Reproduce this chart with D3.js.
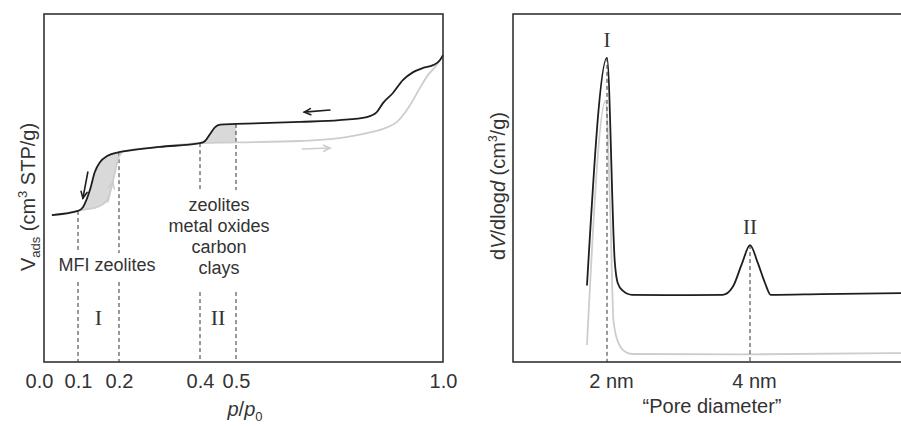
<!DOCTYPE html>
<html><head><meta charset="utf-8">
<script src="https://cdn.jsdelivr.net/npm/d3@7"></script>
<style>body{margin:0;background:#fff}svg{display:block}</style>
</head><body>
<svg id="chart" width="901" height="426"></svg>
<script>
// ---------- Left panel: isotherm (p/p0 vs V_ads, arbitrary units) ----------
const pTicks = [0.0, 0.1, 0.2, 0.4, 0.5, 1.0];
const desP = [0.033, 0.1, 0.112, 0.129, 0.141, 0.154, 0.171, 0.2, 0.21, 0.3, 0.4, 0.414, 0.428, 0.442, 0.456, 0.5, 0.655, 0.75, 0.816, 0.84, 0.855, 0.879, 0.903, 0.928, 0.952, 0.976, 0.993, 1.0];
const desV = [42.2, 43.4, 44.5, 49.4, 54.6, 57.5, 59.2, 60.3, 60.5, 61.8, 62.9, 63.5, 65.5, 67.5, 68.2, 68.4, 69.0, 69.5, 70.4, 71.8, 74.4, 77.3, 81.0, 83.3, 84.5, 85.3, 86.8, 88.2];
const adsP = [0.033, 0.1, 0.12, 0.141, 0.16, 0.171, 0.183, 0.19, 0.197, 0.21, 0.3, 0.4, 0.5, 0.655, 0.703, 0.816, 0.86, 0.889, 0.908, 0.925, 0.944, 0.964, 0.983, 1.0];
const adsV = [42.2, 43.4, 43.9, 44.3, 45.3, 46.6, 50.9, 54.5, 58.0, 60.5, 61.8, 62.9, 63.1, 63.5, 63.8, 65.8, 67.2, 69.0, 71.6, 74.7, 78.7, 82.5, 85.1, 88.2];
const guideP = [0.1, 0.2, 0.4, 0.5];
const guideTop = [43.4, 60.3, 62.9, 68.4];
const guideGapHi = [31.3, 31.3, 49.4, 49.4];
const guideGapLo = [23.0, 23.0, 20.1, 20.1];
const shadeRanges = [[0.1, 0.21], [0.4, 0.5]];
const regionLabels = ["I", "II"];
const regionLabelP = [0.15, 0.45];
const materials1 = ["MFI zeolites"];
const materials2 = ["zeolites", "metal oxides", "carbon", "clays"];

// ---------- Right panel: pore size distribution ----------
const dTicks = [2, 4];
const psdBlackD = [1.72, 2.0, 2.11, 2.15, 2.22, 2.35, 3.0, 3.62, 3.76, 3.89, 4.0, 4.11, 4.21, 4.29, 5.0, 6.2];
const psdBlackV = [22.0, 87.4, 28.4, 22.7, 20.5, 19.3, 19.2, 19.3, 21.6, 28.4, 33.6, 28.4, 22.7, 19.3, 19.5, 19.8];
const psdGrayD = [1.72, 1.98, 2.05, 2.09, 2.15, 2.25, 2.35, 4.0, 6.2];
const psdGrayV = [4.9, 75, 40, 12, 6, 3, 2.3, 2.2, 2.6];
const peakD = [2, 4];
const peakV = [87.4, 33.6];
const peakLabels = ["I", "II"];

const BLACK = "#1e1e1e", GRAY = "#cdcdcd", SHADE = "#d9d9d9", TXT = "#333";
const SANS = "'Liberation Sans', Arial, sans-serif";
const SERIF = "'Liberation Serif', 'Times New Roman', serif";

const svg = d3.select("#chart");

// ===== Left panel =====
const xL = d3.scaleLinear().domain(pTicks).range([39, 78, 119, 200, 236, 443]);
const yL = d3.scaleLinear().domain([0, 100]).range([362, 14]);
const L = svg.append("g");

const des = desP.map((p, i) => [p, desV[i]]);
const ads = adsP.map((p, i) => [p, adsV[i]]);
const lineL = d3.line().x(d => xL(d[0])).y(d => yL(d[1])).curve(d3.curveMonotoneX);
const polyL = d3.line().x(d => xL(d[0])).y(d => yL(d[1]));

// shaded hysteresis
shadeRanges.forEach(([a, b]) => {
  const top = des.filter(d => d[0] >= a - 1e-9 && d[0] <= b + 1e-9);
  const bot = ads.filter(d => d[0] >= a - 1e-9 && d[0] <= b + 1e-9).reverse();
  L.append("path").attr("d", polyL(top.concat(bot)) + "Z").attr("fill", SHADE).attr("stroke", "none");
});

// guide dashed lines
guideP.forEach((p, i) => {
  [[guideTop[i], guideGapHi[i]], [guideGapLo[i], 0]].forEach(([v1, v2]) => {
    L.append("line").attr("x1", xL(p)).attr("x2", xL(p)).attr("y1", yL(v1)).attr("y2", yL(v2))
      .attr("stroke", "#333").attr("stroke-width", 1).attr("stroke-dasharray", "4,3");
  });
});

L.append("path").datum(ads).attr("d", lineL).attr("fill", "none").attr("stroke", GRAY).attr("stroke-width", 1.8);
L.append("path").datum(des).attr("d", lineL).attr("fill", "none").attr("stroke", BLACK).attr("stroke-width", 1.8);

// arrows
const arrows = [
  {p1: 0.727, v1: 72.4, p2: 0.665, v2: 71.8, c: BLACK},
  {p1: 0.660, v1: 61.2, p2: 0.727, v2: 61.5, c: GRAY},
  {p1: 0.124, v1: 54.6, p2: 0.112, v2: 47.1, c: BLACK},
  {p1: 0.173, v1: 46.0, p2: 0.185, v2: 51.7, c: GRAY}
];
arrows.forEach(a => {
  const x1 = xL(a.p1), y1 = yL(a.v1), x2 = xL(a.p2), y2 = yL(a.v2);
  const ang = Math.atan2(y2 - y1, x2 - x1), h = 7, w = 0.45;
  const g = L.append("g").attr("stroke", a.c).attr("stroke-width", 1.6).attr("fill", "none").attr("stroke-linecap", "round");
  g.append("line").attr("x1", x1).attr("y1", y1).attr("x2", x2).attr("y2", y2);
  g.append("path").attr("d",
    `M${x2 - h * Math.cos(ang - w)},${y2 - h * Math.sin(ang - w)}L${x2},${y2}L${x2 - h * Math.cos(ang + w)},${y2 - h * Math.sin(ang + w)}`);
});

// frame
L.append("rect").attr("x", 44).attr("y", 14).attr("width", 399).attr("height", 348)
  .attr("fill", "none").attr("stroke", "#333").attr("stroke-width", 1.6);

// x axis ticks
const axL = L.append("g").attr("transform", "translate(0,362)")
  .call(d3.axisBottom(xL).tickValues(pTicks).tickFormat(d3.format(".1f")).tickSize(0).tickPadding(12));
axL.select(".domain").remove();
axL.selectAll("text").attr("font-size", 20).attr("font-family", SANS).attr("fill", TXT);

// region labels
regionLabels.forEach((t, i) => {
  L.append("text").attr("x", xL(regionLabelP[i])).attr("y", 325).attr("text-anchor", "middle")
    .attr("font-family", SERIF).attr("font-size", 22).attr("fill", TXT).text(t);
});
L.append("text").attr("x", 107).attr("y", 271).attr("text-anchor", "middle")
  .attr("font-family", SANS).attr("font-size", 18).attr("fill", TXT).text(materials1[0]);
materials2.forEach((t, i) => {
  L.append("text").attr("x", 219).attr("y", 211 + i * 21).attr("text-anchor", "middle")
    .attr("font-family", SANS).attr("font-size", 18).attr("fill", TXT).text(t);
});

// axis titles
const ytL = L.append("text").attr("transform", "translate(35,197) rotate(-90)").attr("text-anchor", "middle")
  .attr("font-family", SANS).attr("font-size", 20).attr("fill", TXT);
ytL.append("tspan").text("V");
ytL.append("tspan").attr("font-size", 13).attr("dy", 5).text("ads");
ytL.append("tspan").attr("dy", -5).text(" (cm");
ytL.append("tspan").attr("font-size", 13).attr("dy", -8).text("3");
ytL.append("tspan").attr("dy", 8).text(" STP/g)");

const xtL = L.append("text").attr("x", 245).attr("y", 416).attr("text-anchor", "middle")
  .attr("font-family", SANS).attr("font-size", 20).attr("fill", TXT);
xtL.append("tspan").attr("font-style", "italic").text("p");
xtL.append("tspan").text("/");
xtL.append("tspan").attr("font-style", "italic").text("p");
xtL.append("tspan").attr("font-size", 13).attr("dy", 5).text("0");

// ===== Right panel =====
const xR = d3.scaleLinear().domain([2, 4]).range([607, 750]);
const yR = d3.scaleLinear().domain([0, 100]).range([362, 14]);
const R = svg.append("g");
svg.append("defs").append("clipPath").attr("id", "clipR").append("rect")
  .attr("x", 513).attr("y", 14).attr("width", 392).attr("height", 348);
const lineR = d3.line().x(d => xR(d[0])).y(d => yR(d[1])).curve(d3.curveMonotoneX);
const pb = psdBlackD.map((d, i) => [d, psdBlackV[i]]);
const pg = psdGrayD.map((d, i) => [d, psdGrayV[i]]);
const C = R.append("g").attr("clip-path", "url(#clipR)");
C.append("path").datum(pg).attr("d", lineR).attr("fill", "none").attr("stroke", GRAY).attr("stroke-width", 1.8);
peakD.forEach((d, i) => {
  C.append("line").attr("x1", xR(d)).attr("x2", xR(d)).attr("y1", yR(peakV[i])).attr("y2", yR(0))
    .attr("stroke", "#333").attr("stroke-width", 1).attr("stroke-dasharray", "4,3");
});
C.append("path").datum(pb).attr("d", lineR).attr("fill", "none").attr("stroke", BLACK).attr("stroke-width", 1.8);

R.append("rect").attr("x", 513).attr("y", 14).attr("width", 392).attr("height", 348)
  .attr("fill", "none").attr("stroke", "#333").attr("stroke-width", 1.6);

const axR = R.append("g").attr("transform", "translate(0,362)")
  .call(d3.axisBottom(xR).tickValues(dTicks).tickFormat(d => d + " nm").tickSize(0).tickPadding(12));
axR.select(".domain").remove();
axR.selectAll("text").attr("font-size", 20).attr("font-family", SANS).attr("fill", TXT).attr("dx", 4);

peakLabels.forEach((t, i) => {
  R.append("text").attr("x", xR(peakD[i])).attr("y", yR(peakV[i]) - 11).attr("text-anchor", "middle")
    .attr("font-family", SERIF).attr("font-size", 21).attr("fill", TXT).text(t);
});

const ytR = R.append("text").attr("transform", "translate(505,186) rotate(-90)").attr("text-anchor", "middle")
  .attr("font-family", SANS).attr("font-size", 20).attr("fill", TXT);
ytR.append("tspan").text("d");
ytR.append("tspan").attr("font-style", "italic").text("V");
ytR.append("tspan").text("/dlog");
ytR.append("tspan").attr("font-style", "italic").text("d");
ytR.append("tspan").text(" (cm");
ytR.append("tspan").attr("font-size", 12).attr("dy", -8).text("3");
ytR.append("tspan").attr("dy", 8).text("/g)");

R.append("text").attr("x", 712).attr("y", 413).attr("text-anchor", "middle")
  .attr("font-family", SANS).attr("font-size", 20).attr("fill", TXT).text("\u201CPore diameter\u201D");
</script>
</body></html>
